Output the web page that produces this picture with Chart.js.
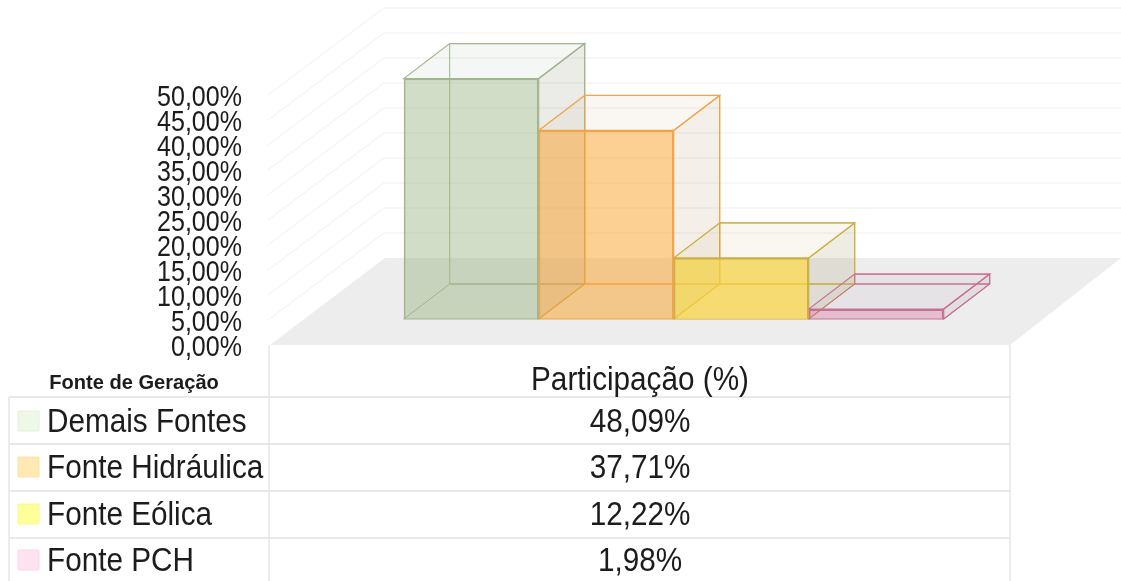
<!DOCTYPE html>
<html lang="pt-BR">
<head>
<meta charset="utf-8">
<title>Participação por fonte de geração</title>
<script src="https://cdn.jsdelivr.net/npm/chart.js@4"></script>
<style>
html,body{margin:0;padding:0;background:#fff}
#wrap{position:relative;width:1121px;height:581px;overflow:hidden}
canvas{filter:blur(0.35px)}
</style>
</head>
<body>
<div id="wrap"><canvas id="c"></canvas></div>
<script>
const categories = ['Participação (%)'];
const sources = ['Demais Fontes', 'Fonte Hidráulica', 'Fonte Eólica', 'Fonte PCH'];
const shares = [48.09, 37.71, 12.22, 1.98];
const tableHeader = 'Fonte de Geração';

const frontFills = ['rgba(155,180,130,0.45)', 'rgba(250,160,40,0.5)', 'rgba(248,211,61,0.7)', 'rgba(215,120,160,0.4)'];
const edges = ['#a3b58f', '#f0a548', '#cdb042', '#c8708f'];
const sideFills = ['rgba(110,120,95,0.14)', 'rgba(175,125,80,0.12)', 'rgba(140,125,60,0.14)', 'rgba(150,110,135,0.12)'];
const topFills = ['rgba(120,150,110,0.08)', 'rgba(180,140,90,0.07)', 'rgba(190,150,70,0.08)', 'rgba(180,150,180,0.1)'];
const swatchFills = ['#eef8e6', '#ffe9b3', '#ffff99', '#ffe3f0'];
const swatchEdges = ['#e4f0dc', '#fbe0ac', '#f6f69a', '#f8d8e6'];

const fmt = v => v.toFixed(2).replace('.', ',') + '%';

const WALL = {dx: 115, dy: -87};          // depth of the chart box
const BAR_SHIFT = {dx: 33.7, dy: -26};    // bars stand inside the box
const BAR = {dx: 46, dy: -35};            // depth of each bar

function poly(ctx, pts, fill, stroke, lw) {
  ctx.beginPath();
  pts.forEach((p, i) => i ? ctx.lineTo(p[0], p[1]) : ctx.moveTo(p[0], p[1]));
  ctx.closePath();
  if (fill) { ctx.fillStyle = fill; ctx.fill(); }
  if (stroke) { ctx.strokeStyle = stroke; ctx.lineWidth = lw; ctx.stroke(); }
}

function squeezed(ctx, text, x, y, font, align, k) {
  ctx.font = font;
  ctx.textAlign = align;
  ctx.textBaseline = 'middle';
  ctx.fillStyle = '#1c1c1c';
  ctx.fillText(text, x, y, ctx.measureText(text).width * k);
}

const box3d = {
  id: 'box3d',
  beforeDatasetsDraw(chart) {
    const {ctx, chartArea: a, scales: {y}} = chart;
    const W = chart.width;
    ctx.save();
    // floor
    poly(ctx, [[a.left, a.bottom], [a.right, a.bottom], [a.right + 111, a.bottom + WALL.dy], [a.left + WALL.dx, a.bottom + WALL.dy]], '#ededed');
    // wall grid
    ctx.strokeStyle = '#f5f5f5';
    ctx.lineWidth = 1.4;
    y.ticks.forEach(t => {
      if (t.value === 0) return;
      const py = y.getPixelForValue(t.value);
      ctx.beginPath();
      ctx.moveTo(a.left - 2, py);
      ctx.lineTo(a.left + WALL.dx - 1, py + WALL.dy);
      ctx.lineTo(W, py + WALL.dy);
      ctx.stroke();
    });
    // tick labels, narrowed as in the reference
    y.ticks.forEach(t => {
      squeezed(ctx, fmt(t.value), a.left - 28, y.getPixelForValue(t.value) + 2.5, '30px "Liberation Sans"', 'right', 0.835);
    });
    ctx.restore();
    // depth faces of the bars, then the library's bars on top
    ctx.save();
    ctx.translate(BAR_SHIFT.dx, BAR_SHIFT.dy);
    chart.data.datasets.forEach((d, i) => {
      const el = chart.getDatasetMeta(i).data[0];
      const l = el.x - el.width / 2, r = el.x + el.width / 2, t = el.y, b = el.base;
      const o = BAR;
      // hidden edges
      poly(ctx, [[l + o.dx, t + o.dy], [r + o.dx, t + o.dy], [r + o.dx, b + o.dy], [l + o.dx, b + o.dy]], null, edges[i], 1);
      poly(ctx, [[l, b], [r, b], [r + o.dx, b + o.dy], [l + o.dx, b + o.dy]], null, edges[i], 1);
      // top and right
      poly(ctx, [[l, t], [r, t], [r + o.dx, t + o.dy], [l + o.dx, t + o.dy]], topFills[i], edges[i], 1.2);
      poly(ctx, [[r, t], [r + o.dx, t + o.dy], [r + o.dx, b + o.dy], [r, b]], sideFills[i], edges[i], 1.2);
    });
  },
  afterDatasetsDraw(chart) {
    chart.ctx.restore();
  },
  afterDraw(chart) {
    const {ctx, chartArea: a} = chart;
    const rowLines = [397, 444, 491, 538];
    const rowMid = [421, 467, 514, 560];
    ctx.save();
    ctx.strokeStyle = '#e2e2e2';
    ctx.lineWidth = 1.3;
    const line = (x1, y1, x2, y2) => { ctx.beginPath(); ctx.moveTo(x1, y1); ctx.lineTo(x2, y2); ctx.stroke(); };
    rowLines.forEach(y => line(9, y, a.right, y));
    line(9, rowLines[0], 9, 581);
    line(a.left - 1, a.bottom, a.left - 1, 581);
    line(a.right, a.bottom, a.right, 581);

    const font = '33px "Liberation Sans"';
    squeezed(ctx, tableHeader, 134, 383, 'bold 20.5px "Liberation Sans"', 'center', 0.98);
    squeezed(ctx, categories[0], 640, 381, font, 'center', 0.9);
    sources.forEach((s, i) => {
      poly(ctx, [[18, rowMid[i] - 10], [39, rowMid[i] - 10], [39, rowMid[i] + 10], [18, rowMid[i] + 10]], swatchFills[i], swatchEdges[i], 1);
      squeezed(ctx, s, 47, rowMid[i] + 2, font, 'left', 0.9);
      squeezed(ctx, fmt(shares[i]), 640, rowMid[i] + 2, font, 'center', 0.9);
    });
    ctx.restore();
  }
};

new Chart(document.getElementById('c'), {
  type: 'bar',
  data: {
    labels: categories,
    datasets: sources.map((s, i) => ({
      label: s,
      data: [shares[i]],
      backgroundColor: frontFills[i],
      borderColor: edges[i],
      borderWidth: 1.8,
      clip: false,
      categoryPercentage: 0.7297,
      barPercentage: 1
    }))
  },
  options: {
    responsive: true,
    maintainAspectRatio: false,
    animation: false,
    events: [],
    layout: {padding: {left: 0, right: 111, top: 95, bottom: 236}},
    plugins: {legend: {display: false}, tooltip: {enabled: false}, title: {display: false}},
    scales: {
      x: {display: false},
      y: {
        min: 0,
        max: 50,
        afterFit(scale) { scale.width = 270; },
        grid: {display: false, drawTicks: false},
        border: {display: false},
        ticks: {
          stepSize: 5,
          display: false,
          callback: v => fmt(v)
        }
      }
    }
  },
  plugins: [box3d]
});
</script>
</body>
</html>
